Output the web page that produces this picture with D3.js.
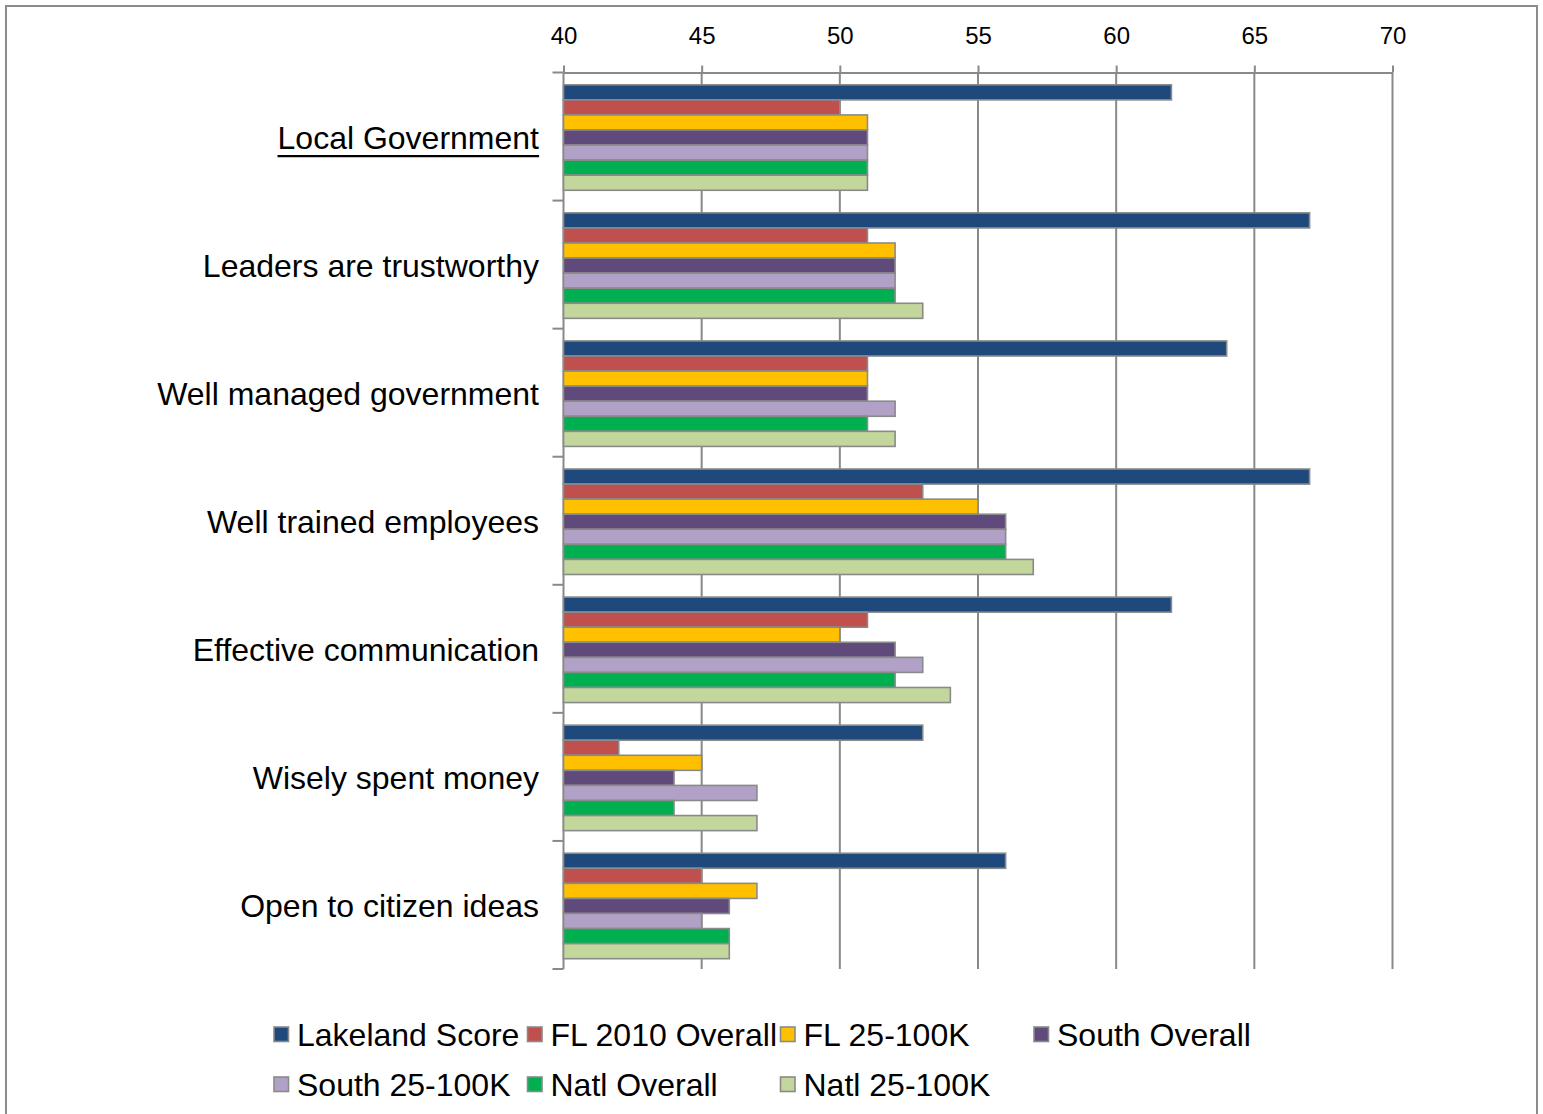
<!DOCTYPE html>
<html>
<head>
<meta charset="utf-8">
<script src="https://cdn.jsdelivr.net/npm/d3@7"></script>
<style>
  html, body { margin: 0; padding: 0; background: #fff; }
  svg { display: block; font-family: "Liberation Sans", Arial, sans-serif; }
</style>
</head>
<body>
<svg id="chart" width="1543" height="1114"></svg>
<script>
// Survey ratings by category, compared across benchmark groups
const categories = [
  "Local Government",
  "Leaders are trustworthy",
  "Well managed government",
  "Well trained employees",
  "Effective communication",
  "Wisely spent money",
  "Open to citizen ideas"
];
const seriesNames = [
  "Lakeland Score", "FL 2010 Overall", "FL 25-100K", "South Overall",
  "South 25-100K", "Natl Overall", "Natl 25-100K"
];
const lakelandScore = [62, 67, 64, 67, 62, 53, 56];
const fl2010Overall = [50, 51, 51, 53, 51, 42, 45];
const fl25to100k    = [51, 52, 51, 55, 50, 45, 47];
const southOverall  = [51, 52, 51, 56, 52, 44, 46];
const south25to100k = [51, 52, 52, 56, 53, 47, 45];
const natlOverall   = [51, 52, 51, 56, 52, 44, 46];
const natl25to100k  = [51, 53, 52, 57, 54, 47, 46];
const seriesValues = [lakelandScore, fl2010Overall, fl25to100k, southOverall,
                      south25to100k, natlOverall, natl25to100k];
const seriesColors = ["#1F497D", "#C0504D", "#FFC000", "#604A7B",
                      "#B2A1C7", "#00B050", "#C3D69B"];
const xTicks = [40, 45, 50, 55, 60, 65, 70];

const svg = d3.select("#chart");
const gridColor = "#898989";
const labelSize = 32;

// Outer frame
svg.append("rect")
  .attr("x", 6).attr("y", 6).attr("width", 1531).attr("height", 1140)
  .attr("fill", "#fff").attr("stroke", "#8c8c8c").attr("stroke-width", 2);

const plotLeft = 563.5, plotRight = 1392.5, plotTop = 72.5, plotBottom = 969;

const x = d3.scaleLinear().domain([40, 70]).range([plotLeft, plotRight]);

const gap = 1.5 / 8.5;
const y = d3.scaleBand().domain(categories).range([plotTop, plotBottom])
  .paddingInner(gap).paddingOuter(gap / 2);
const ySeries = d3.scaleBand().domain(seriesNames).range([0, y.bandwidth()]);
const step = y.step();

// Vertical gridlines
svg.append("g").selectAll("line").data(xTicks).join("line")
  .attr("x1", d => x(d)).attr("x2", d => x(d))
  .attr("y1", plotTop).attr("y2", plotBottom)
  .attr("stroke", gridColor).attr("stroke-width", 2);

// Top value axis
const xAxis = svg.append("g")
  .attr("transform", `translate(0,${plotTop})`)
  .call(d3.axisTop(x).tickValues(xTicks).tickSize(7).tickPadding(21.5).tickSizeOuter(0));
xAxis.select(".domain").attr("stroke", gridColor).attr("stroke-width", 2);
xAxis.selectAll(".tick line").attr("stroke", gridColor).attr("stroke-width", 2);
xAxis.selectAll(".tick text")
  .attr("fill", "#000").attr("font-size", 24)
  .attr("font-family", "'Liberation Sans', Arial, sans-serif");

// Category axis: boundary ticks extending left
const boundaries = categories.map(c => y(c) - step * gap / 2).concat([plotBottom]);
svg.append("g").selectAll("line").data(boundaries).join("line")
  .attr("x1", plotLeft - 11).attr("x2", plotLeft)
  .attr("y1", d => d).attr("y2", d => d)
  .attr("stroke", gridColor).attr("stroke-width", 2);

// Bars
const groups = svg.append("g").selectAll("g").data(categories).join("g")
  .attr("transform", c => `translate(0,${y(c) + 1})`);
groups.selectAll("rect")
  .data((c, ci) => seriesNames.map((s, si) => ({ s, si, v: seriesValues[si][ci] })))
  .join("rect")
  .attr("x", x(40))
  .attr("y", d => ySeries(d.s))
  .attr("width", d => x(d.v) - x(40))
  .attr("height", ySeries.bandwidth())
  .attr("fill", d => seriesColors[d.si])
  .attr("stroke", "#8a8a8a").attr("stroke-width", 1.6);

// Category labels
const labels = svg.append("g").selectAll("text").data(categories).join("text")
  .attr("x", 539)
  .attr("y", c => y(c) + y.bandwidth() / 2 + 12)
  .attr("text-anchor", "end")
  .attr("font-size", labelSize)
  .attr("fill", "#000")
  .text(c => c);

// Underline on the header category
labels.filter((c, i) => i === 0).each(function () {
  const b = this.getBBox();
  const ly = +this.getAttribute("y") + 7.5;
  svg.append("line")
    .attr("x1", b.x).attr("x2", b.x + b.width)
    .attr("y1", ly).attr("y2", ly)
    .attr("stroke", "#000").attr("stroke-width", 2.2);
});

// Legend
const legendCols = [274, 527.5, 780.5, 1034];
const legendRows = [1046, 1096];
const legend = svg.append("g").selectAll("g").data(seriesNames).join("g")
  .attr("transform", (s, i) => `translate(${legendCols[i % 4]},${legendRows[Math.floor(i / 4)]})`);
legend.append("rect")
  .attr("x", 0).attr("y", -19).attr("width", 14.5).attr("height", 14.5)
  .attr("fill", (s, i) => seriesColors[i])
  .attr("stroke", "#8a8a8a").attr("stroke-width", 1.6);
legend.append("text")
  .attr("x", 23).attr("y", 0)
  .attr("font-size", labelSize).attr("fill", "#000")
  .text(s => s);
</script>
</body>
</html>
